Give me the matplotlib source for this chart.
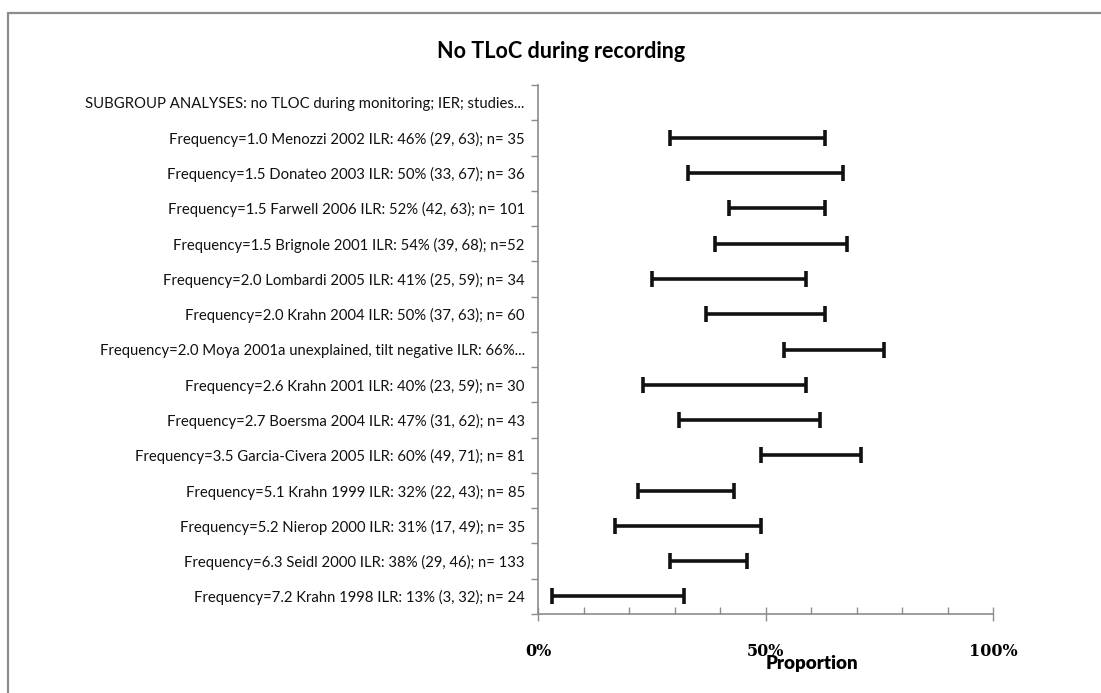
import numpy as np
import matplotlib
matplotlib.use("Agg")
import matplotlib.pyplot as plt
from matplotlib.patches import Rectangle

# study labels, top to bottom
labels = [
    "SUBGROUP ANALYSES: no TLOC during monitoring; IER; studies...",
    "Frequency=1.0 Menozzi 2002 ILR: 46% (29, 63); n= 35",
    "Frequency=1.5 Donateo 2003 ILR: 50% (33, 67); n= 36",
    "Frequency=1.5 Farwell 2006 ILR: 52% (42, 63); n= 101",
    "Frequency=1.5 Brignole 2001 ILR: 54% (39, 68); n=52",
    "Frequency=2.0 Lombardi 2005 ILR: 41% (25, 59); n= 34",
    "Frequency=2.0 Krahn 2004 ILR: 50% (37, 63); n= 60",
    "Frequency=2.0 Moya 2001a unexplained, tilt negative ILR: 66%...",
    "Frequency=2.6 Krahn 2001 ILR: 40% (23, 59); n= 30",
    "Frequency=2.7 Boersma 2004 ILR: 47% (31, 62); n= 43",
    "Frequency=3.5 Garcia-Civera 2005 ILR: 60% (49, 71); n= 81",
    "Frequency=5.1 Krahn 1999 ILR: 32% (22, 43); n= 85",
    "Frequency=5.2 Nierop 2000 ILR: 31% (17, 49); n= 35",
    "Frequency=6.3 Seidl 2000 ILR: 38% (29, 46); n= 133",
    "Frequency=7.2 Krahn 1998 ILR: 13% (3, 32); n= 24",
]
# 95% CI bounds in percent (header row has none)
ci_low = [np.nan, 29, 33, 42, 39, 25, 37, 54, 23, 31, 49, 22, 17, 29, 3]
ci_high = [np.nan, 63, 67, 63, 68, 59, 63, 76, 59, 62, 71, 43, 49, 46, 32]

low = np.array(ci_low) / 100
high = np.array(ci_high) / 100
y = np.arange(len(labels))

fig = plt.figure(figsize=(11.01, 6.93), dpi=100)
ax = fig.add_axes([538 / 1101, 1 - 614 / 693, (993 - 538) / 1101, (614 - 85) / 693])

ax.hlines(y, low, high, color="#111111", lw=2.6)
ax.plot(low, y, ls="none", marker="|", ms=11, mew=2.6, color="#111111")
ax.plot(high, y, ls="none", marker="|", ms=11, mew=2.6, color="#111111")

ax.set_xlim(0, 1)
ax.set_ylim(len(labels) - 0.5, -0.5)

grey = "#8c8c8c"
for s in ["top", "right"]:
    ax.spines[s].set_visible(False)
for s in ["left", "bottom"]:
    ax.spines[s].set_color(grey)
    ax.spines[s].set_linewidth(1.2)

ax.set_yticks(y)
ax.set_yticklabels(labels, fontsize=10.7, family="Lato", color="#111111")
ax.set_yticks(np.arange(len(labels) + 1) - 0.5, minor=True)
ax.tick_params(axis="y", which="major", length=0, pad=9.5)
ax.tick_params(axis="y", which="minor", length=5, color=grey, width=1)

ax.set_xticks([0, 0.5, 1])
ax.set_xticklabels(["0%", "50%", "100%"], fontsize=11.5, family="DejaVu Serif", weight="bold")
ax.set_xticks(np.arange(0, 1.01, 0.1), minor=True)
ax.tick_params(axis="x", which="major", direction="inout", length=10, color=grey, width=1, pad=16)
ax.tick_params(axis="x", which="minor", direction="in", length=5, color=grey, width=1)

fig.text(561 / 1101, 1 - 52 / 693, "No TLoC during recording", ha="center", va="center",
         fontsize=15.5, weight="bold", family="Lato")
fig.text(812 / 1101, 1 - 664 / 693, "Proportion", ha="center", va="center",
         fontsize=13.5, weight="heavy", family="Lato")

# chart frame, cut off at right and bottom
fig.patches.append(Rectangle((8 / 1101, -0.2), 1.2, 1 - 13 / 693 + 0.2, transform=fig.transFigure,
                             fill=False, edgecolor=grey, lw=1.6))

fig.savefig("out.png", dpi=100)
